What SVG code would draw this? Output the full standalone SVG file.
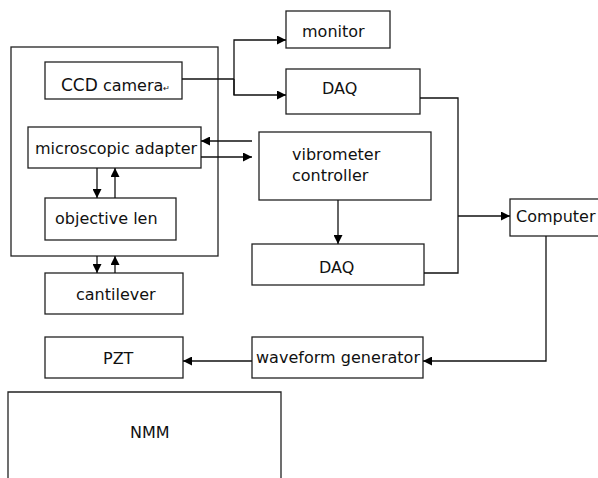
<svg xmlns="http://www.w3.org/2000/svg" width="598" height="478" viewBox="0 0 598 478">
<defs>
<marker id="ah" viewBox="0 0 10 10" refX="10" refY="5" markerWidth="10" markerHeight="9" markerUnits="userSpaceOnUse" orient="auto"><path d="M0,0 L10,5 L0,10 z" fill="#000"/></marker>
<style>
.b{fill:none;stroke:#222;stroke-width:1.3}
.c{fill:none;stroke:#111;stroke-width:1.3}
text{font-family:"DejaVu Sans",Verdana,sans-serif;font-size:16px;fill:#111}
</style>
</defs>
<rect width="598" height="478" fill="#fff"/>
<g id="outer"><rect class="b" x="11" y="47" width="207" height="209"/></g>
<g id="ccd"><rect class="b" x="45" y="62" width="137" height="37"/><text x="61" y="91"><tspan font-size="17">CCD</tspan> camera<tspan font-size="8">↵</tspan></text></g>
<g id="adapter"><rect class="b" x="28" y="127" width="173" height="41"/><text x="35" y="154" textLength="162">microscopic adapter</text></g>
<g id="objective"><rect class="b" x="45" y="198" width="131" height="42"/><text x="55" y="224">objective len</text></g>
<g id="cantilever"><rect class="b" x="45" y="273" width="138" height="41"/><text x="76" y="300">cantilever</text></g>
<g id="pzt"><rect class="b" x="45" y="337" width="138" height="41"/><text x="103" y="364">PZT</text></g>
<g id="nmm"><path class="b" d="M8,480 V392 H281 V480"/><text x="130" y="438">NMM</text></g>
<g id="monitor"><rect class="b" x="286" y="11" width="104" height="37"/><text x="302" y="37">monitor</text></g>
<g id="daq1"><rect class="b" x="286" y="69" width="134" height="45"/><text x="322" y="94">DAQ</text></g>
<g id="vibrometer"><rect class="b" x="259" y="132" width="172" height="68"/><text x="292" y="160">vibrometer</text><text x="292" y="181">controller</text></g>
<g id="daq2"><rect class="b" x="252" y="244" width="172" height="41"/><text x="319" y="273">DAQ</text></g>
<g id="computer"><rect class="b" x="510" y="199" width="95" height="37"/><text x="516" y="222">Computer</text></g>
<g id="waveform"><rect class="b" x="252" y="337" width="171" height="41"/><text x="256" y="363" textLength="164">waveform generator</text></g>
<g id="connectors">
<path class="c" d="M182,79 H234"/>
<path class="c" d="M234,95 V40 H286" marker-end="url(#ah)"/>
<path class="c" d="M234,79 V95 H286" marker-end="url(#ah)"/>
<path class="c" d="M252,141 H201" marker-end="url(#ah)"/>
<path class="c" d="M201,157 H252" marker-end="url(#ah)"/>
<path class="c" d="M97,168 V198" marker-end="url(#ah)"/>
<path class="c" d="M115,198 V168" marker-end="url(#ah)"/>
<path class="c" d="M97,256 V273" marker-end="url(#ah)"/>
<path class="c" d="M115,273 V256" marker-end="url(#ah)"/>
<path class="c" d="M338,200 V244" marker-end="url(#ah)"/>
<path class="c" d="M420,98 H458 V273 H424"/>
<path class="c" d="M458,216 H510" marker-end="url(#ah)"/>
<path class="c" d="M546,236 V361 H423" marker-end="url(#ah)"/>
<path class="c" d="M252,361 H183" marker-end="url(#ah)"/>
</g>
</svg>
